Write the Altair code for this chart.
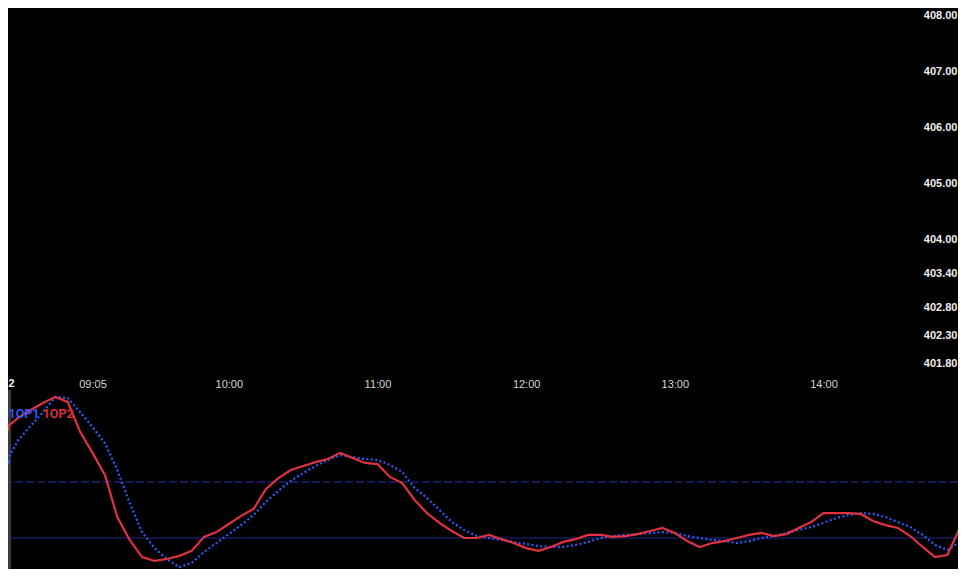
import altair as alt
import pandas as pd

# ---------------- data ----------------
series_names = ["1OP1", "1OP2"]
series_colors = ["#2f5cff", "#e0323f"]

# 5-minute bars from 08:25 to 15:00
start_minute = 8 * 60 + 25
bar_minutes = [start_minute + 5 * i for i in range(80)]

# 1OP1 (blue, dotted)
op1 = [
    19.6, 27.1, 35.0, 40.0, 45.0, 50.4, 50.0,                            # 08:25-08:55
    45.0, 39.6, 33.9, 24.3, 12.5, 2.1, -3.6, -7.5, -10.4, -8.9, -5.0, -1.8,  # 09h
    1.4, 4.6, 8.2, 12.9, 16.8, 20.4, 23.2, 25.7, 27.9, 29.6, 28.9, 28.2,  # 10h
    27.9, 26.1, 23.6, 17.9, 14.3, 10.0, 5.7, 2.9, 0.7, 0.0, -0.7, -1.4,   # 11h
    -2.1, -2.9, -3.2, -3.2, -2.5, -1.4, 0.0, 0.7, 1.1, 1.4, 1.8, 2.1,     # 12h
    1.8, 0.7, 0.0, -0.7, -1.1, -1.8, -1.1, 0.0, 0.7, 1.8, 2.9, 3.9,       # 13h
    5.4, 7.1, 8.2, 8.9, 8.6, 7.5, 5.7, 3.9, 1.1, -2.5, -4.3, -1.4,        # 14h
    1.4,                                                                  # 15:00
]

# 1OP2 (red, solid)
op2 = [
    29.6, 39.3, 42.9, 45.7, 48.2, 50.4, 48.6,                            # 08:25-08:55
    37.9, 30.4, 22.5, 7.5, -0.7, -6.8, -8.2, -7.5, -6.4, -4.6, 0.4, 2.1,  # 09h
    5.0, 7.9, 10.4, 17.5, 21.4, 24.3, 25.7, 27.1, 28.2, 30.4, 28.6, 26.8, # 10h
    26.4, 21.8, 19.6, 13.6, 8.9, 5.4, 2.5, 0.0, 0.0, 1.1, -0.4, -1.8,     # 11h
    -3.6, -4.6, -3.2, -1.4, -0.4, 1.1, 1.1, 0.4, 0.7, 1.4, 2.5, 3.6,      # 12h
    1.8, -1.1, -3.2, -1.8, -1.1, 0.0, 1.1, 1.8, 0.7, 1.4, 3.6, 5.7,       # 13h
    8.9, 8.9, 8.9, 8.6, 6.1, 4.6, 3.6, 0.7, -3.2, -6.8, -6.1, 3.6,        # 14h
    13.6,                                                                 # 15:00
]

level_values = [20, 0]
level_colors = ["#2535b0", "#1d2a8c"]

price_ticks = [408.00, 407.00, 406.00, 405.00, 404.00, 403.40, 402.80, 402.30, 401.80]

time_tick_minutes = [545, 600, 660, 720, 780, 840]  # 09:05 ... 14:00
day_label = "2"

# ---------------- layout constants ----------------
W, H = 950, 561
x_domain = [510.89, 894.28]
ind_domain = [-11.071, 189.286]
price_domain = [398.1197, 408.1429]

df = pd.DataFrame({"minute": bar_minutes, "op1": op1, "op2": op2})
df_first = df[df["minute"] == 510]

label_expr = (
    "(floor(datum.value/60) < 10 ? '0' : '') + floor(datum.value/60) + ':' + "
    "(datum.value % 60 < 10 ? '0' : '') + (datum.value % 60)"
)

x_enc = alt.X(
    "minute:Q",
    scale=alt.Scale(domain=x_domain, nice=False, zero=False),
    axis=alt.Axis(
        orient="bottom", offset=-191, values=time_tick_minutes, labelExpr=label_expr,
        ticks=False, domain=False, grid=False, labelPadding=0,
        labelColor="#d6d6d6", labelFont="Liberation Sans", labelFontSize=11,
        title=None, labelFlush=False, labelOverlap=False,
    ),
)

ind_scale = alt.Scale(domain=ind_domain, nice=False, zero=False)

levels = alt.Chart(pd.DataFrame({"level": level_values, "color": level_colors})).mark_rule(
    strokeWidth=1
).encode(
    y=alt.Y("level:Q", scale=ind_scale, axis=None),
    color=alt.Color("color:N", scale=None),
    strokeDash=alt.condition("datum.level == 20", alt.value([8, 3]), alt.value([1, 0])),
)

cursor_bar = alt.Chart(pd.DataFrame({"k": [0]})).mark_rule(
    color="#3a3a42", strokeWidth=3
).encode(x=alt.value(1.5), y=alt.value(382), y2=alt.value(H))

blue_line = alt.Chart(df).mark_line(
    color=series_colors[0], strokeWidth=2.2, strokeDash=[2, 2.4], clip=True
).encode(x=x_enc, y=alt.Y("op1:Q", scale=ind_scale, axis=None))

red_line = alt.Chart(df).mark_line(
    color=series_colors[1], strokeWidth=2.2, clip=True
).encode(x=x_enc, y=alt.Y("op2:Q", scale=ind_scale, axis=None))

blue_dot = alt.Chart(df_first).mark_circle(color=series_colors[0], size=60, opacity=1).encode(
    x=x_enc, y=alt.Y("op1:Q", scale=ind_scale, axis=None)
)
red_dot = alt.Chart(df_first).mark_circle(color=series_colors[1], size=60, opacity=1).encode(
    x=x_enc, y=alt.Y("op2:Q", scale=ind_scale, axis=None)
)

lab1 = alt.Chart(pd.DataFrame({"name": [series_names[0]]})).mark_text(
    align="left", baseline="middle", font="Roboto", fontSize=12.5, fontWeight=600,
    color=series_colors[0]
).encode(text="name:N", x=alt.value(0.5), y=alt.value(405.5))
lab2 = alt.Chart(pd.DataFrame({"name": [series_names[1]]})).mark_text(
    align="left", baseline="middle", font="Roboto", fontSize=12.5, fontWeight=600,
    color=series_colors[1]
).encode(text="name:N", x=alt.value(34.7), y=alt.value(405.5))

day_text = alt.Chart(pd.DataFrame({"name": [day_label]})).mark_text(
    align="left", baseline="top", font="Liberation Sans", fontSize=11,
    fontWeight="bold", color="#f0f0f0"
).encode(text="name:N", x=alt.value(0.5), y=alt.value(370))

price_axis = alt.Chart(pd.DataFrame({"price": price_ticks})).mark_point(opacity=0).encode(
    y=alt.Y(
        "price:Q",
        scale=alt.Scale(domain=price_domain, nice=False, zero=False),
        axis=alt.Axis(
            orient="right", values=price_ticks, format=".2f", offset=-1,
            labelAlign="right", labelPadding=0, ticks=False, domain=False, grid=False,
            labelColor="#efefef", labelFont="Liberation Sans", labelFontSize=11,
            labelFontWeight="bold", title=None, labelOverlap=False, labelFlush=False,
        ),
    )
)

chart = (
    alt.layer(levels, cursor_bar, blue_line, red_line, blue_dot, red_dot,
              lab1, lab2, day_text, price_axis)
    .resolve_scale(y="independent")
    .properties(
        width=W, height=H,
        autosize=alt.AutoSizeParams(type="none"),
        padding=0,
        background="#000000",
    )
    .configure_view(stroke=None)
)

chart.save("out.html", embed_options={"renderer": "svg", "actions": False})
